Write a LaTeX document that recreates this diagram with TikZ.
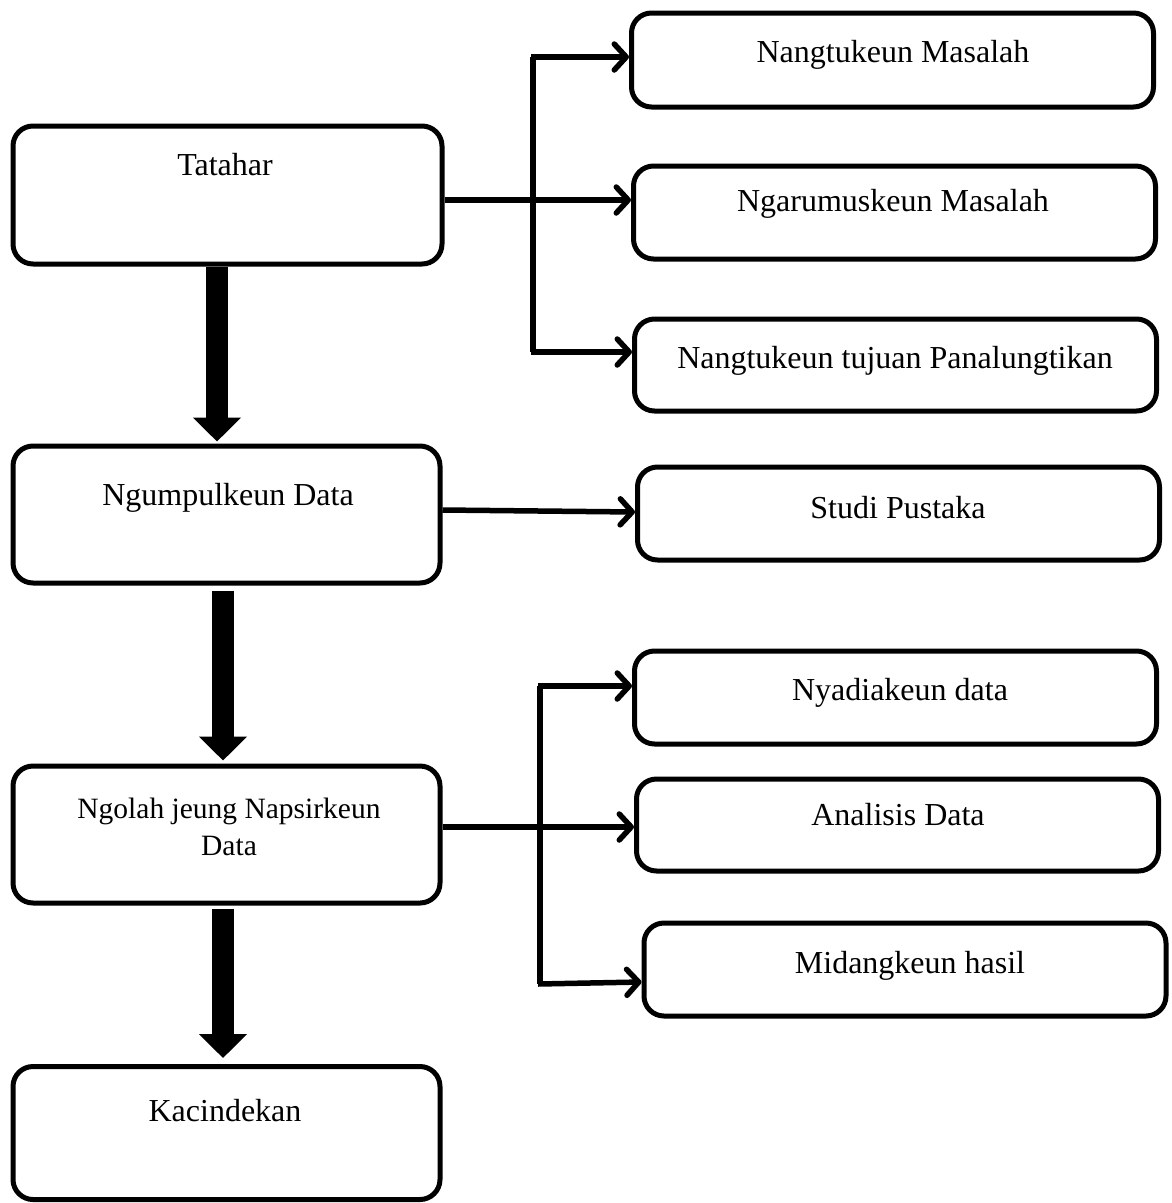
\documentclass[tikz,border=0pt]{standalone}
\usepackage{fontspec}
\setmainfont{Liberation Serif}
\usetikzlibrary{arrows.meta}
\begin{document}
\begin{tikzpicture}[x=1pt,y=-1pt,
  box/.style={draw, line width=5pt, rounded corners=20pt, inner sep=0pt},
  lbl/.style={anchor=base, inner sep=0pt, font=\fontsize{32}{38}\selectfont},
  lbls/.style={anchor=base, inner sep=0pt, font=\fontsize{29.5}{35}\selectfont},
  arr/.style={line width=5.5pt, -{Straight Barb[length=12pt,width=26pt,round]}},
  bigarr/.style={line width=22pt, -{Triangle[length=24pt,width=47pt]}},
  bline/.style={line width=5.5pt}]
\useasboundingbox (0,0) rectangle (1171,1203);
% left column
\node[box, minimum width=429pt, minimum height=138pt] (tatahar) at (227.5,195) {};
\node[box, minimum width=427pt, minimum height=137pt] (ngumpul) at (226.5,514.5) {};
\node[box, minimum width=427pt, minimum height=137pt] (ngolah) at (226.5,834.5) {};
\node[box, minimum width=427pt, minimum height=133pt] (kacin) at (226.5,1133) {};
% right column
\node[box, minimum width=522pt, minimum height=94pt] (nangtu) at (892.5,60) {};
\node[box, minimum width=522pt, minimum height=93pt] (ngarum) at (894.5,212.5) {};
\node[box, minimum width=522pt, minimum height=92pt] (tujuan) at (895.5,365) {};
\node[box, minimum width=522pt, minimum height=93pt] (studi) at (898.5,513.5) {};
\node[box, minimum width=522pt, minimum height=93pt] (nyadia) at (895.5,697.5) {};
\node[box, minimum width=522pt, minimum height=92pt] (analisis) at (897.5,825) {};
\node[box, minimum width=522pt, minimum height=93pt] (midang) at (905,969.5) {};
% labels
\node[lbl] (t1) at (225,175) {Tatahar};
\node[lbl] (t2) at (228,505) {Ngumpulkeun Data};
\node[lbls] (t3a) at (229,818) {Ngolah jeung Napsirkeun};
\node[lbls] (t3b) at (229,855) {Data};
\node[lbl] (t4) at (225,1121) {Kacindekan};
\node[lbl] (r1) at (893,62) {Nangtukeun Masalah};
\node[lbl] (r2) at (893,211) {Ngarumuskeun Masalah};
\node[lbl] (r3) at (895,368) {Nangtukeun tujuan Panalungtikan};
\node[lbl] (r4) at (898,518) {Studi Pustaka};
\node[lbl] (r5) at (900,700) {Nyadiakeun data};
\node[lbl] (r6) at (898,825) {Analisis Data};
\node[lbl] (r7) at (910,973) {Midangkeun hasil};
% thick down arrows
\draw[bigarr] ([xshift=-10.5pt]tatahar.south) -- ([xshift=-9.5pt,yshift=2pt]ngumpul.north);
\draw[bigarr] ([xshift=-3.5pt,yshift=-5pt]ngumpul.south) -- ([xshift=-3.5pt,yshift=3pt]ngolah.north);
\draw[bigarr] ([xshift=-3.5pt,yshift=-3pt]ngolah.south) -- ([xshift=-3.5pt,yshift=6pt]kacin.north);
% branch 1
\coordinate (b1t) at (533,57);
\coordinate (b1b) at (533,352);
\draw[bline] (b1t) -- (b1b);
\draw[arr] ([yshift=-5pt]tatahar.east) -- ([yshift=12.5pt]ngarum.west);
\draw[arr] ([xshift=-2pt]b1t) -- (nangtu.west |- b1t);
\draw[arr] ([xshift=-2pt]b1b) -- (tujuan.west |- b1b);
% studi pustaka
\draw[arr] ([yshift=4.5pt]ngumpul.east) -- ([yshift=1.5pt]studi.west);
% branch 2
\coordinate (b2t) at (540,686);
\coordinate (b2b) at (540,984);
\draw[bline] (b2t) -- (b2b);
\draw[arr] ([yshift=7.5pt]ngolah.east) -- ([yshift=-2pt]analisis.west);
\draw[arr] ([xshift=-2pt]b2t) -- (nyadia.west |- b2t);
\draw[arr] ([xshift=-2pt]b2b) -- ([yshift=-12.5pt]midang.west);
\end{tikzpicture}
\end{document}
